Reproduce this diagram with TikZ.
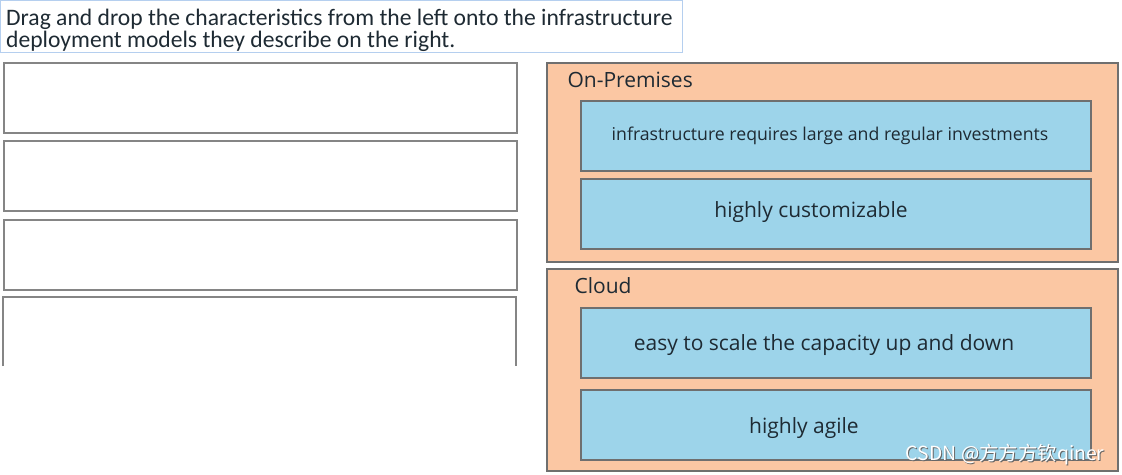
\documentclass[tikz,border=0pt]{standalone}
\usepackage{fontspec}
\setmainfont{Carlito}
\newfontfamily\boxfont{Open Sans}
\newfontfamily\cjkfont{Noto Sans CJK SC}
\definecolor{peach}{HTML}{FBC7A3}
\definecolor{sky}{HTML}{9DD4EA}
\definecolor{frame}{HTML}{6F6F6F}
\definecolor{titleline}{HTML}{B5CFEF}
\definecolor{inktext}{HTML}{1E2A33}
\begin{document}
\begin{tikzpicture}[x=1pt, y=-1pt,
	slot/.style={draw=frame!85, line width=1.5pt, fill=white, anchor=north west, inner sep=0pt, minimum width=513pt, minimum height=70pt},
	model/.style={draw=frame, line width=1.6pt, fill=peach, anchor=north west, inner sep=0pt, minimum width=571pt},
	item/.style={draw=frame, line width=1.8pt, fill=sky, anchor=north west, inner sep=0pt, minimum width=510pt, minimum height=70pt},
	itemtext/.style={font=\boxfont\fontsize{21}{24}\selectfont, text=inktext},
	asktext/.style={anchor=base west, inner sep=0pt, font=\fontsize{23.6}{22}\selectfont, text=inktext},
	modeltitle/.style={font=\boxfont\fontsize{21}{24}\selectfont, text=inktext, anchor=west}]
	\useasboundingbox (0,0) rectangle (1122,474);
	% question
	\node[draw=titleline, line width=1pt, fill=white, anchor=north west, inner sep=0pt, minimum width=682pt, minimum height=52pt] (question) at (0,0) {};
	\node[asktext] (askline1) at (6,25) {Drag and drop the characteristics from the left onto the infrastructure};
	\node[asktext] (askline2) at (6,47) {deployment models they describe on the right.};
	% empty answer slots
	\node[slot] (slot1) at (3,62) {};
	\node[slot] (slot2) at (3,140) {};
	\node[slot] (slot3) at (3,219) {};
	\draw[draw=frame!85, line width=1.5pt] (3,366) -- (3,297) -- (516,297) -- (516,366);
	% on-premises
	\node[model, minimum height=199pt] (onprem) at (546,62) {};
	\node[modeltitle] (onpremtitle) at (564,80) {On-Premises};
	\node[item] (invest) at (580,100) {};
	\node[itemtext, font=\boxfont\fontsize{17.7}{20}\selectfont] (investtext) at (830,136) {infrastructure requires large and regular investments};
	\node[item] (custom) at (580,178) {};
	\node[itemtext] (customtext) at (811,212) {highly customizable};
	% cloud
	\node[model, minimum height=202pt] (cloud) at (546,268) {};
	\node[modeltitle] (cloudtitle) at (571,286) {Cloud};
	\node[item] (scale) at (580,307) {};
	\node[itemtext] (scaletext) at (824,345) {easy to scale the capacity up and down};
	\node[item] (agile) at (580,389) {};
	\node[itemtext] (agiletext) at (804,428) {highly agile};
	% mark
	\node[anchor=east, font=\cjkfont\fontsize{19.4}{22}\selectfont, text=gray!80!black] (markshade) at (1109,456) {CSDN @方方方钦qiner};
	\node[anchor=east, font=\cjkfont\fontsize{19.4}{22}\selectfont, text=white] (mark) at (1108,455) {CSDN @方方方钦qiner};
\end{tikzpicture}
\end{document}
